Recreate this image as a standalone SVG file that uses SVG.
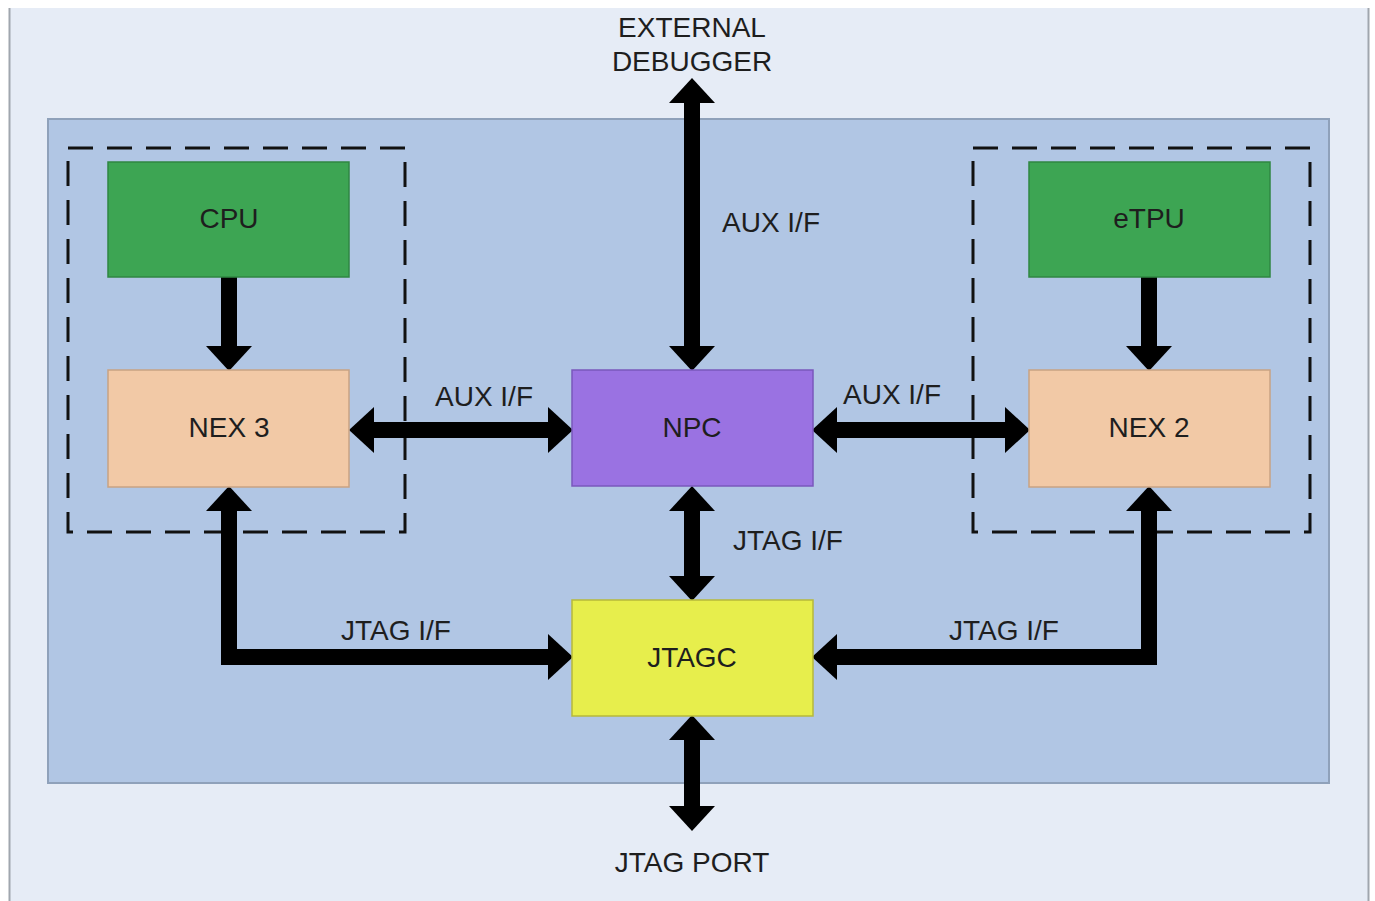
<svg xmlns="http://www.w3.org/2000/svg" width="1375" height="901" viewBox="0 0 1375 901">
  <style>
    .lbl { font-family: "Liberation Sans", Arial, sans-serif; font-size: 28px; fill: #1e1e1e; text-anchor: middle; }
    .box { stroke-width: 1.5; }
    .dash { fill: none; stroke: #111; stroke-width: 3; stroke-dasharray: 25 14; }
    .conn { fill: none; stroke: #000; stroke-width: 16; stroke-linejoin: miter; }
  </style>
  <defs>
    <marker id="ah" markerUnits="userSpaceOnUse" viewBox="0 0 25 46" markerWidth="25" markerHeight="46" refX="0" refY="23" orient="auto-start-reverse">
      <path d="M0,0 L25,23 L0,46 Z" fill="#000"/>
    </marker>
  </defs>
  <rect x="0" y="0" width="1375" height="901" fill="#ffffff"/>
  <rect x="9" y="8" width="1359" height="893" fill="#E6ECF6"/>
  <line x1="9.5" y1="8" x2="9.5" y2="901" stroke="#A0A6AE" stroke-width="2"/>
  <line x1="1368.5" y1="8" x2="1368.5" y2="901" stroke="#A0A6AE" stroke-width="2"/>

  <g id="chip">
    <rect x="48" y="119" width="1281" height="664" fill="#B1C6E4" stroke="#8FA1BA" stroke-width="2"/>
  </g>
  <g id="group-left"><rect class="dash" x="68" y="148" width="337" height="384"/></g>
  <g id="group-right"><rect class="dash" x="973" y="148" width="337" height="384"/></g>

  <g id="connectors">
    <line class="conn" x1="229" y1="277" x2="229" y2="346" marker-end="url(#ah)"/>
    <line class="conn" x1="1149" y1="277" x2="1149" y2="346" marker-end="url(#ah)"/>
    <line class="conn" x1="692" y1="103" x2="692" y2="346" marker-start="url(#ah)" marker-end="url(#ah)"/>
    <line class="conn" x1="374" y1="430" x2="548" y2="430" marker-start="url(#ah)" marker-end="url(#ah)"/>
    <line class="conn" x1="837" y1="430" x2="1005" y2="430" marker-start="url(#ah)" marker-end="url(#ah)"/>
    <line class="conn" x1="692" y1="511" x2="692" y2="576" marker-start="url(#ah)" marker-end="url(#ah)"/>
    <line class="conn" x1="692" y1="740" x2="692" y2="806" marker-start="url(#ah)" marker-end="url(#ah)"/>
    <path class="conn" d="M229,511 V657 H548" marker-start="url(#ah)" marker-end="url(#ah)"/>
    <path class="conn" d="M1149,511 V657 H837" marker-start="url(#ah)" marker-end="url(#ah)"/>
    <text class="lbl" x="771" y="232">AUX I/F</text>
    <text class="lbl" x="484" y="406">AUX I/F</text>
    <text class="lbl" x="892" y="404">AUX I/F</text>
    <text class="lbl" x="788" y="550">JTAG I/F</text>
    <text class="lbl" x="396" y="640">JTAG I/F</text>
    <text class="lbl" x="1004" y="640">JTAG I/F</text>
  </g>

  <g id="cpu">
    <rect class="box" x="108" y="162" width="241" height="115" fill="#3DA553" stroke="#2F8742"/>
    <text class="lbl" x="229" y="228">CPU</text>
  </g>
  <g id="etpu">
    <rect class="box" x="1029" y="162" width="241" height="115" fill="#3DA553" stroke="#2F8742"/>
    <text class="lbl" x="1149" y="228">eTPU</text>
  </g>
  <g id="nex3">
    <rect class="box" x="108" y="370" width="241" height="117" fill="#F2C9A6" stroke="#C8A283"/>
    <text class="lbl" x="229" y="437">NEX 3</text>
  </g>
  <g id="nex2">
    <rect class="box" x="1029" y="370" width="241" height="117" fill="#F2C9A6" stroke="#C8A283"/>
    <text class="lbl" x="1149" y="437">NEX 2</text>
  </g>
  <g id="npc">
    <rect class="box" x="572" y="370" width="241" height="116" fill="#9A72E2" stroke="#7A58BC"/>
    <text class="lbl" x="692" y="437">NPC</text>
  </g>
  <g id="jtagc">
    <rect class="box" x="572" y="600" width="241" height="116" fill="#E7EE4C" stroke="#B7B93A"/>
    <text class="lbl" x="692" y="667">JTAGC</text>
  </g>
  <g id="external-debugger">
    <text class="lbl" x="692" y="37">EXTERNAL</text>
    <text class="lbl" x="692" y="71">DEBUGGER</text>
  </g>
  <g id="jtag-port">
    <text class="lbl" x="692" y="872">JTAG PORT</text>
  </g>
</svg>
